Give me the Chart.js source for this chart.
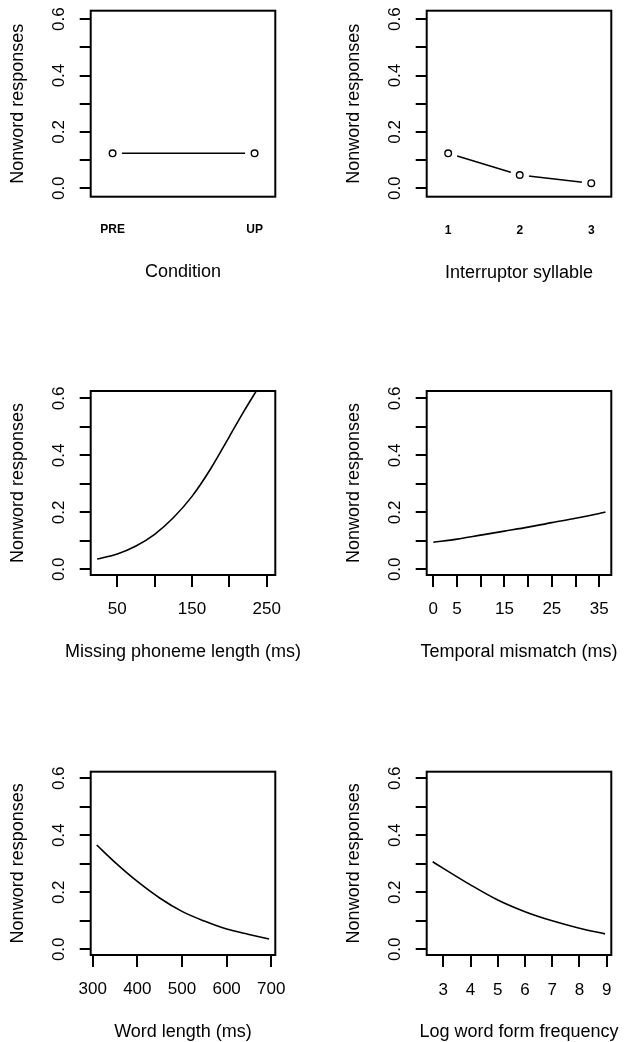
<!DOCTYPE html>
<html>
<head>
<meta charset="utf-8">
<script src="https://cdn.jsdelivr.net/npm/chart.js@4/dist/chart.umd.min.js"></script>
<style>
html,body{margin:0;padding:0;background:#fff;width:624px;height:1042px;overflow:hidden;position:relative}
canvas{position:absolute}
</style>
</head>
<body>
<canvas id="c1"></canvas><canvas id="c2"></canvas>
<canvas id="c3"></canvas><canvas id="c4"></canvas>
<canvas id="c5"></canvas><canvas id="c6"></canvas>
<script>
// ---------- data ----------
const yTitle = 'Nonword responses';
const yTicks = [0, 0.1, 0.2, 0.3, 0.4, 0.5, 0.6];
const yTickLabels = ['0.0', '', '0.2', '', '0.4', '', '0.6'];

// Panel 1: Condition
const conditionCategories = ['PRE', 'UP'];
const conditionX = [1, 2];
const conditionValues = [0.124, 0.124];

// Panel 2: Interruptor syllable
const syllableCategories = ['1', '2', '3'];
const syllableX = [1, 2, 3];
const syllableValues = [0.124, 0.047, 0.018];

// Panel 3: Missing phoneme length (ms)
const phonemeX = [23, 50, 75, 100, 125, 150, 175, 200, 220, 237];
const phonemeY = [0.036, 0.054, 0.082, 0.123, 0.181, 0.256, 0.353, 0.466, 0.557, 0.63];
const phonemeTicks = [50, 100, 150, 200, 250];
const phonemeTickLabels = ['50', '', '150', '', '250'];

// Panel 4: Temporal mismatch (ms)
const mismatchX = [0, 5, 10, 15, 20, 25, 30, 35, 36.3];
const mismatchY = [0.095, 0.106, 0.120, 0.134, 0.148, 0.164, 0.179, 0.196, 0.201];
const mismatchTicks = [0, 5, 10, 15, 20, 25, 30, 35];
const mismatchTickLabels = ['0', '5', '', '15', '', '25', '', '35'];

// Panel 5: Word length (ms)
const wordLenX = [309, 350, 400, 450, 500, 550, 600, 650, 695];
const wordLenY = [0.366, 0.305, 0.238, 0.180, 0.133, 0.099, 0.071, 0.052, 0.036];
const wordLenTicks = [300, 400, 500, 600, 700];
const wordLenTickLabels = ['300', '400', '500', '600', '700'];

// Panel 6: Log word form frequency
const freqX = [2.61, 3, 4, 5, 6, 7, 8, 8.94];
const freqY = [0.307, 0.284, 0.226, 0.173, 0.132, 0.100, 0.074, 0.054];
const freqTicks = [3, 4, 5, 6, 7, 8, 9];
const freqTickLabels = ['3', '4', '5', '6', '7', '8', '9'];

// ---------- layout ----------
const FONT_FAMILY = "'Liberation Sans', Arial, Helvetica, sans-serif";
Chart.defaults.font.family = FONT_FAMILY;
Chart.defaults.color = '#000';

const boxPlugin = {
  id: 'rbox',
  afterDraw(chart) {
    const {ctx, chartArea: a} = chart;
    ctx.save();
    ctx.strokeStyle = '#000';
    ctx.lineWidth = 2;
    ctx.strokeRect(a.left, a.top, a.right - a.left, a.bottom - a.top);
    ctx.restore();
  }
};

// x-axis title centred under the plot box (no width squeeze)
const xTitlePlugin = {
  id: 'xTitle',
  afterDraw(chart, args, opts) {
    const {ctx, chartArea: a} = chart;
    ctx.save();
    ctx.font = '18px ' + FONT_FAMILY;
    ctx.fillStyle = '#000';
    ctx.textAlign = 'center';
    ctx.textBaseline = 'middle';
    ctx.fillText(opts.text, (a.left + a.right) / 2, a.bottom + opts.dy);
    ctx.restore();
  }
};

const Y_AXIS_W = 90.7;
const X_AXIS_H = 95;

const panels = [
  {id: 'c1', left: 0, width: 312, top: 0, boxT: 10.7, boxB: 196.7, boxR: 275.3,
   yMin: -0.03, yMax: 0.63, xMin: 0.846, xMax: 2.146,
   xs: conditionX, ys: conditionValues, ticks: conditionX, labels: conditionCategories,
   kind: 'b', title: 'Condition', titleDY: 75.3, tickDY: 33.3, tickLen: 0, small: true},
  {id: 'c2', left: 336, width: 288, top: 0, boxT: 10.7, boxB: 196.7, boxR: 611.3,
   yMin: -0.03, yMax: 0.63, xMin: 0.70, xMax: 3.28,
   xs: syllableX, ys: syllableValues, ticks: syllableX, labels: syllableCategories,
   kind: 'b', title: 'Interruptor syllable', titleDY: 76, tickDY: 33.5, tickLen: 0, small: true},
  {id: 'c3', left: 0, width: 312, top: 380, boxT: 391, boxB: 575, boxR: 275.3,
   yMin: -0.02, yMax: 0.626, xMin: 14.4, xMax: 261.5,
   xs: phonemeX, ys: phonemeY, ticks: phonemeTicks, labels: phonemeTickLabels,
   kind: 'l', title: 'Missing phoneme length (ms)', titleDY: 76.7, tickDY: 34.3, tickLen: 12},
  {id: 'c4', left: 336, width: 288, top: 380, boxT: 391, boxB: 575, boxR: 611.3,
   yMin: -0.02, yMax: 0.626, xMin: -1.39, xMax: 37.53,
   xs: mismatchX, ys: mismatchY, ticks: mismatchTicks, labels: mismatchTickLabels,
   kind: 'l', title: 'Temporal mismatch (ms)', titleDY: 76.7, tickDY: 34.3, tickLen: 12},
  {id: 'c5', left: 0, width: 312, top: 761, boxT: 771.7, boxB: 955, boxR: 275.3,
   yMin: -0.02, yMax: 0.623, xMin: 295.5, xMax: 709,
   xs: wordLenX, ys: wordLenY, ticks: wordLenTicks, labels: wordLenTickLabels,
   kind: 'l', title: 'Word length (ms)', titleDY: 76.7, tickDY: 34.3, tickLen: 12},
  {id: 'c6', left: 336, width: 288, top: 761, boxT: 771.7, boxB: 955, boxR: 611.3,
   yMin: -0.02, yMax: 0.623, xMin: 2.39, xMax: 9.17,
   xs: freqX, ys: freqY, ticks: freqTicks, labels: freqTickLabels,
   kind: 'l', title: 'Log word form frequency', titleDY: 77.5, tickDY: 35, tickLen: 12}
];

function makePanel(p) {
  const canvas = document.getElementById(p.id);
  const H = Math.ceil(p.boxB - p.top + X_AXIS_H);
  const xAxisH = H - (p.boxB - p.top);
  canvas.width = p.width;
  canvas.height = H;
  canvas.style.left = p.left + 'px';
  canvas.style.top = p.top + 'px';
  canvas.style.width = p.width + 'px';
  canvas.style.height = H + 'px';

  const pts = p.xs.map((x, i) => ({x: x, y: p.ys[i]}));
  let datasets;
  if (p.kind === 'b') {
    datasets = [
      {data: pts, showLine: false, pointRadius: 3.3, pointBorderWidth: 1.4,
       pointBorderColor: '#000', pointBackgroundColor: '#fff', order: 0},
      {data: pts, showLine: false, pointRadius: 9.5, pointBorderWidth: 0,
       pointBorderColor: '#fff', pointBackgroundColor: '#fff', order: 1},
      {data: pts, borderColor: '#000', borderWidth: 1.5, pointRadius: 0, order: 2}
    ];
  } else {
    datasets = [
      {data: pts, borderColor: '#000', borderWidth: 1.6, pointRadius: 0,
       cubicInterpolationMode: 'monotone'}
    ];
  }

  const tickFont = p.small ? {size: 12, weight: 'bold', lineHeight: 1.2} : {size: 17, lineHeight: 1.2};
  const tickLh = tickFont.size * 1.2;
  const titleFont = {size: 18, lineHeight: 1.2};
  const titleLh = 18 * 1.2;

  new Chart(canvas, {
    type: 'line',
    data: {datasets: datasets},
    plugins: [boxPlugin, xTitlePlugin],
    options: {
      responsive: false,
      animation: false,
      events: [],
      layout: {
        autoPadding: false,
        padding: {left: 0, top: p.boxT - p.top, right: p.left + p.width - p.boxR, bottom: 0}
      },
      plugins: {
        legend: {display: false},
        tooltip: {enabled: false},
        xTitle: {text: p.title, dy: p.titleDY}
      },
      scales: {
        x: {
          type: 'linear', min: p.xMin, max: p.xMax,
          afterBuildTicks: s => { s.ticks = p.ticks.map(v => ({value: v})); },
          afterFit: s => { s.height = xAxisH; s.paddingLeft = 0; s.paddingRight = 0; },
          grid: {display: true, drawOnChartArea: false, drawTicks: p.tickLen > 0,
                 tickLength: p.tickLen, color: '#000', lineWidth: 2},
          border: {display: false},
          ticks: {autoSkip: false, minRotation: 0, maxRotation: 0, color: '#000',
                  padding: p.tickDY - p.tickLen - tickLh / 2, font: tickFont,
                  callback: (v, i) => p.labels[i]},
          title: {display: false}
        },
        y: {
          type: 'linear', min: p.yMin, max: p.yMax,
          afterBuildTicks: s => { s.ticks = yTicks.map(v => ({value: v})); },
          afterFit: s => { s.width = Y_AXIS_W; s.paddingTop = 0; s.paddingBottom = 0; },
          grid: {display: true, drawOnChartArea: false, drawTicks: true, tickLength: 11,
                 color: '#000', lineWidth: 2},
          border: {display: false},
          ticks: {autoSkip: false, minRotation: 90, maxRotation: 90, crossAlign: 'center',
                  padding: 8.6, color: '#000', font: {size: 17, lineHeight: 1.2},
                  callback: (v, i) => yTickLabels[i]},
          title: {display: true, text: yTitle, color: '#000', font: titleFont,
                  padding: {top: 18 - titleLh / 2, bottom: 0}}
        }
      }
    }
  });
}

panels.forEach(makePanel);
</script>
</body>
</html>
